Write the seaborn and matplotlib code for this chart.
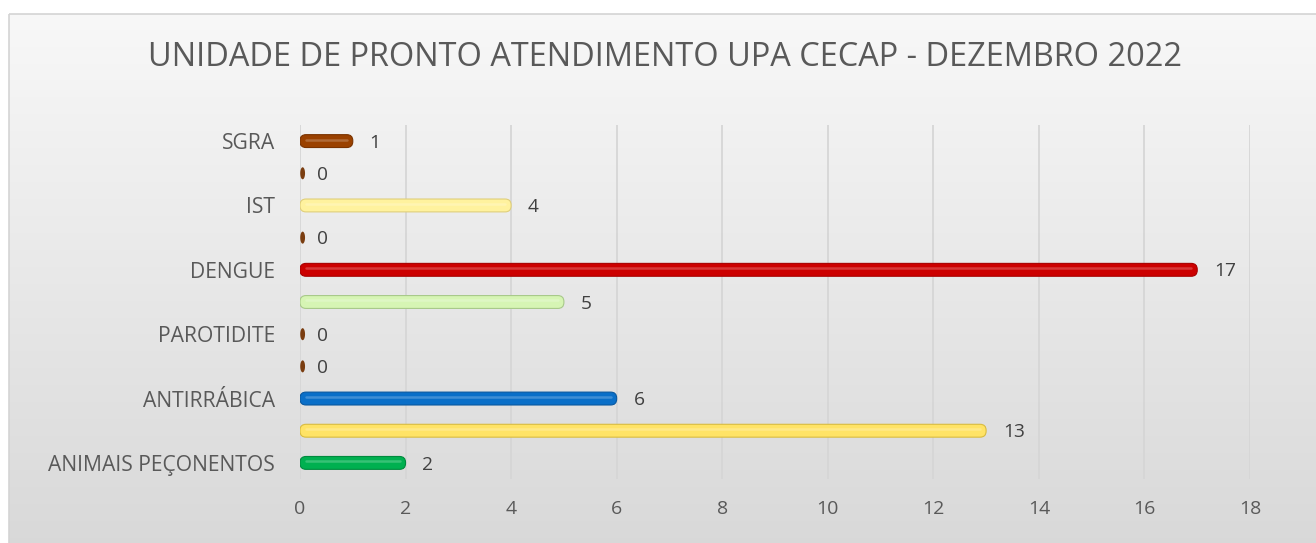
import matplotlib
matplotlib.use("Agg")
import matplotlib.pyplot as plt
import seaborn as sns
import numpy as np
import pandas as pd
from matplotlib.patches import FancyBboxPatch, Rectangle
from matplotlib.path import Path

# ---- data (top to bottom as drawn) ----
categories = ["SGRA", "CAT_10", "IST", "CAT_8", "DENGUE", "CAT_6",
              "PAROTIDITE", "CAT_4", "ANTIRRÁBICA", "CAT_2", "ANIMAIS PEÇONENTOS"]
tick_labels = ["SGRA", "", "IST", "", "DENGUE", "",
               "PAROTIDITE", "", "ANTIRRÁBICA", "", "ANIMAIS PEÇONENTOS"]
values = [1, 0, 4, 0, 17, 5, 0, 0, 6, 13, 2]
bar_colors = ["#9A4100", "#8B4513", "#FFF29E", "#8B4513", "#CC0000", "#D6F5B4",
              "#8B4513", "#8B4513", "#0A6FC8", "#FFE366", "#00B050"]
edge_colors = ["#7A3300", "#6B3510", "#E0CF7A", "#6B3510", "#A80000", "#A8C98A",
               "#6B3510", "#6B3510", "#0858A0", "#D9BC40", "#008A3E"]
x_ticks = [0, 2, 4, 6, 8, 10, 12, 14, 16, 18]
title = "UNIDADE DE PRONTO ATENDIMENTO UPA CECAP - DEZEMBRO 2022"

df = pd.DataFrame({"cat": categories, "val": values})

sns.set_theme(style="white")
plt.rcParams["font.family"] = ["Open Sans", "DejaVu Sans"]

W, H = 1316, 543
fig = plt.figure(figsize=(W / 100, H / 100), dpi=100)

# background with border and vertical gradient
bg = fig.add_axes([0, 0, 1, 1], zorder=-10)
bg.set_xlim(0, W)
bg.set_ylim(H, 0)
bg.axis("off")
grad = np.linspace(0, 1, 256).reshape(-1, 1)
top = np.array([0.972, 0.972, 0.972])
bot = np.array([0.850, 0.850, 0.850])
img = top + (bot - top) * grad[..., None]
img = img.reshape(256, 1, 3)
bg.imshow(img, extent=[9, W, H, 14], aspect="auto", zorder=0)
bg.add_patch(Rectangle((9, 14), W, H, fill=False, edgecolor="#D4D4D4", lw=1.2, zorder=1))

# main axes: x 0->300px, 18->1250px; rows 125..479 px
left = 300 / W
right = 1250 / W
ax_top = 125
ax_bot = 479
ax = fig.add_axes([left, 1 - ax_bot / H, right - left, (ax_bot - ax_top) / H])
ax.patch.set_alpha(0)

sns.barplot(data=df, x="val", y="cat", order=categories, ax=ax,
            width=0.40, palette=bar_colors, hue="cat", legend=False, saturation=1)

ax.set_xlim(0, 18)
ax.set_ylim(len(categories) - 0.5, -0.5)

# round the bars
px_per_x = (1250 - 300) / 18.0
px_per_y = (ax_bot - ax_top) / len(categories)
for p in list(ax.patches):
    x0, y0 = p.get_x(), p.get_y()
    w, h = p.get_width(), p.get_height()
    if w <= 0:
        p.remove()
        continue
    r_px = 6.0
    rx = r_px / px_per_x
    aspect = (r_px / px_per_y) / rx
    idx = int(round(y0 + h / 2))
    p.remove()
    fb = FancyBboxPatch((x0, y0), w, h,
                        boxstyle=f"round,pad=0,rounding_size={rx}",
                        mutation_aspect=aspect,
                        facecolor=bar_colors[idx], edgecolor=edge_colors[idx],
                        lw=0.8, zorder=3)
    ax.add_patch(fb)
    ax.plot([x0 + rx, x0 + w - rx], [y0 + h * 0.38] * 2, color="white",
            alpha=0.22, lw=1.8, solid_capstyle="round", zorder=4)

# zero-valued bars: small vertical brown ellipses
t = np.linspace(0, 2 * np.pi, 40)
ell = Path(np.column_stack([0.4 * np.cos(t), np.sin(t)]), closed=True)
zero_y = [i for i, v in enumerate(values) if v == 0]
ax.scatter([0.05] * len(zero_y), zero_y, marker=ell, s=75, color="#7A3D10",
           edgecolor="none", zorder=4, clip_on=False)

# value labels
for i, v in enumerate(values):
    ax.text(v + 0.32, i + 0.05, str(v), va="center", ha="left",
            fontsize=13.8, color="#404040")

# grid
ax.set_xticks(x_ticks)
ax.xaxis.grid(True, color="#D6D6D6", lw=1.3)
ax.set_axisbelow(True)
for s in ax.spines.values():
    s.set_visible(False)
ax.set_yticks(range(len(categories)))
ax.set_yticklabels(tick_labels)
ax.tick_params(axis="y", length=0, pad=18, labelsize=15.2, labelcolor="#595959")
ax.tick_params(axis="x", length=0, pad=15, labelsize=14, labelcolor="#595959")
ax.set_xlabel("")
ax.set_ylabel("")

fig.text(665 / W, 1 - 58 / H, title, ha="center", va="center",
         fontsize=23.4, color="#595959")

fig.savefig("out.png", dpi=100)
